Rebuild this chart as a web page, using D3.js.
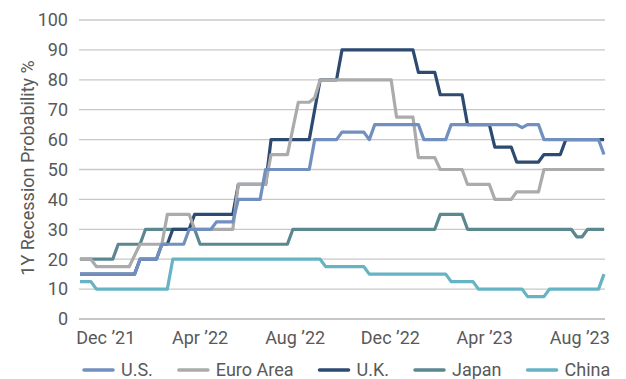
<!DOCTYPE html>
<html>
<head>
<meta charset="utf-8">
<script src="https://cdn.jsdelivr.net/npm/d3@7"></script>
<style>
  body { margin: 0; background: #fff; }
  text { font-family: "Liberation Sans Narrow", "Arial Narrow", "Roboto", sans-serif; fill: #595959; }
</style>
</head>
<body>
<svg id="chart" width="626" height="379"></svg>
<script>
// Weekly readings, stored as [week, value] vertices of each step line.
// Week 0 is the first observation (end of Oct 2021).
var startDate = new Date(2021, 9, 29)
  , lastWeek = 96

var usVals = [[0,15],[10,15],[11,20],[14,20],[15,25],[19,25],[20,30],[24,30],[25,32.5],[28,32.5],[29,40],[33,40],[34,50],[42,50],[43,60],[47,60],[48,62.5],[52,62.5],[53,60],[54,65],[62,65],[63,60],[67,60],[68,65],[80,65],[81,64],[82,65],[84,65],[85,60],[95,60],[96,55]]
var euroVals = [[0,20],[2,20],[3,17.5],[9,17.5],[11,25],[15,25],[16,35],[20,35],[21,30],[28,30],[29,45],[34,45],[35,55],[38,55],[40,72.5],[42,72.5],[43,74],[44,80],[57,80],[58,67.5],[61,67.5],[62,54],[65,54],[66,50],[70,50],[71,45],[75,45],[76,40],[79,40],[80,42.5],[84,42.5],[85,50],[96,50]]
var ukVals = [[0,15],[10,15],[11,20],[14,20],[15,25],[16,25],[17,30],[20,30],[21,35],[28,35],[29,45],[34,45],[35,60],[42,60],[44,80],[47,80],[48,90],[61,90],[62,82.5],[65,82.5],[66,75],[70,75],[71,65],[75,65],[76,57.5],[79,57.5],[80,52.5],[84,52.5],[85,55],[88,55],[89,60],[96,60]]
var japanVals = [[0,20],[6,20],[7,25],[11,25],[12,30],[21,30],[22,25],[38,25],[39,30],[65,30],[66,35],[70,35],[71,30],[90,30],[91,27.5],[92,27.5],[93,30],[96,30]]
var chinaVals = [[0,12.5],[2,12.5],[3,10],[16,10],[17,20],[44,20],[45,17.5],[52,17.5],[53,15],[67,15],[68,12.5],[72,12.5],[73,10],[81,10],[82,7.5],[85,7.5],[86,10],[95,10],[96,15]]

var seriesNames = ['U.S.', 'Euro Area', 'U.K.', 'Japan', 'China']
var seriesColors = ['#7190c0', '#ababab', '#2d4a71', '#5b8790', '#66b4c3']
var xTickDates = ['2021-12-01', '2022-04-01', '2022-08-01', '2022-12-01', '2023-04-01', '2023-08-01']
var xTickLabels = ['Dec \u201921', 'Apr \u201922', 'Aug \u201922', 'Dec \u201922', 'Apr \u201923', 'Aug \u201923']
var yTicks = [0, 10, 20, 30, 40, 50, 60, 70, 80, 90, 100]
var yTitle = '1Y Recession Probability %'

var svg = d3.select('#chart')
  , weekDate = function(w) { return d3.timeDay.offset(startDate, 7 * w) }
  , parse = d3.timeParse('%Y-%m-%d')

var x = d3.scaleTime().domain([startDate, weekDate(lastWeek)]).range([80, 604])
  , y = d3.scaleLinear().domain([0, 100]).range([319, 20])

// gridlines (the 0 line doubles as the axis)
svg.append('g').selectAll('line').data(yTicks).enter().append('line')
  .attr('x1', 79).attr('x2', 605)
  .attr('y1', function(d) { return y(d) }).attr('y2', function(d) { return y(d) })
  .attr('stroke', function(d) { return d === 0 ? '#b4b4b4' : '#c8c8c8' })
  .attr('stroke-width', 1.3)

svg.append('g').selectAll('text').data(yTicks).enter().append('text')
  .attr('x', 68).attr('y', function(d) { return y(d) })
  .attr('dy', '0.35em').attr('text-anchor', 'end')
  .style('font-size', '18px')
  .text(function(d) { return d })

svg.append('g').selectAll('text').data(xTickDates).enter().append('text')
  .attr('x', function(d) { return x(parse(d)) }).attr('y', 344)
  .attr('text-anchor', 'middle')
  .style('font-size', '18px')
  .text(function(d, i) { return xTickLabels[i] })

svg.append('text')
  .attr('transform', 'translate(34,168) rotate(-90)')
  .attr('text-anchor', 'middle')
  .style('font-size', '18px')
  .text(yTitle)

var allSeries = [usVals, euroVals, ukVals, japanVals, chinaVals]
var line = d3.line()
  .x(function(d) { return x(weekDate(d[0])) })
  .y(function(d) { return y(d[1]) })

// last series drawn first, so the U.S. line sits on top
var order = d3.range(allSeries.length).reverse()
svg.append('g').selectAll('path').data(order).enter().append('path')
  .attr('d', function(i) { return line(allSeries[i]) })
  .attr('fill', 'none')
  .attr('stroke', function(i) { return seriesColors[i] })
  .attr('stroke-width', 3.2)
  .attr('stroke-linejoin', 'round')

// legend, laid out from the text widths, starting under the plot's left edge
var legend = svg.append('g').attr('transform', 'translate(84,0)')
  , lx = 0
seriesNames.forEach(function(name, i) {
  var item = legend.append('g').attr('transform', 'translate(' + lx + ',0)')
  item.append('line').attr('x1', 0).attr('x2', 29).attr('y1', 370).attr('y2', 370)
    .attr('stroke', seriesColors[i]).attr('stroke-width', 3.5).attr('stroke-linecap', 'round')
  var t = item.append('text').attr('x', 37).attr('y', 376).style('font-size', '18px').text(name)
  lx += 37 + t.node().getComputedTextLength() + 26
})
</script>
</body>
</html>
